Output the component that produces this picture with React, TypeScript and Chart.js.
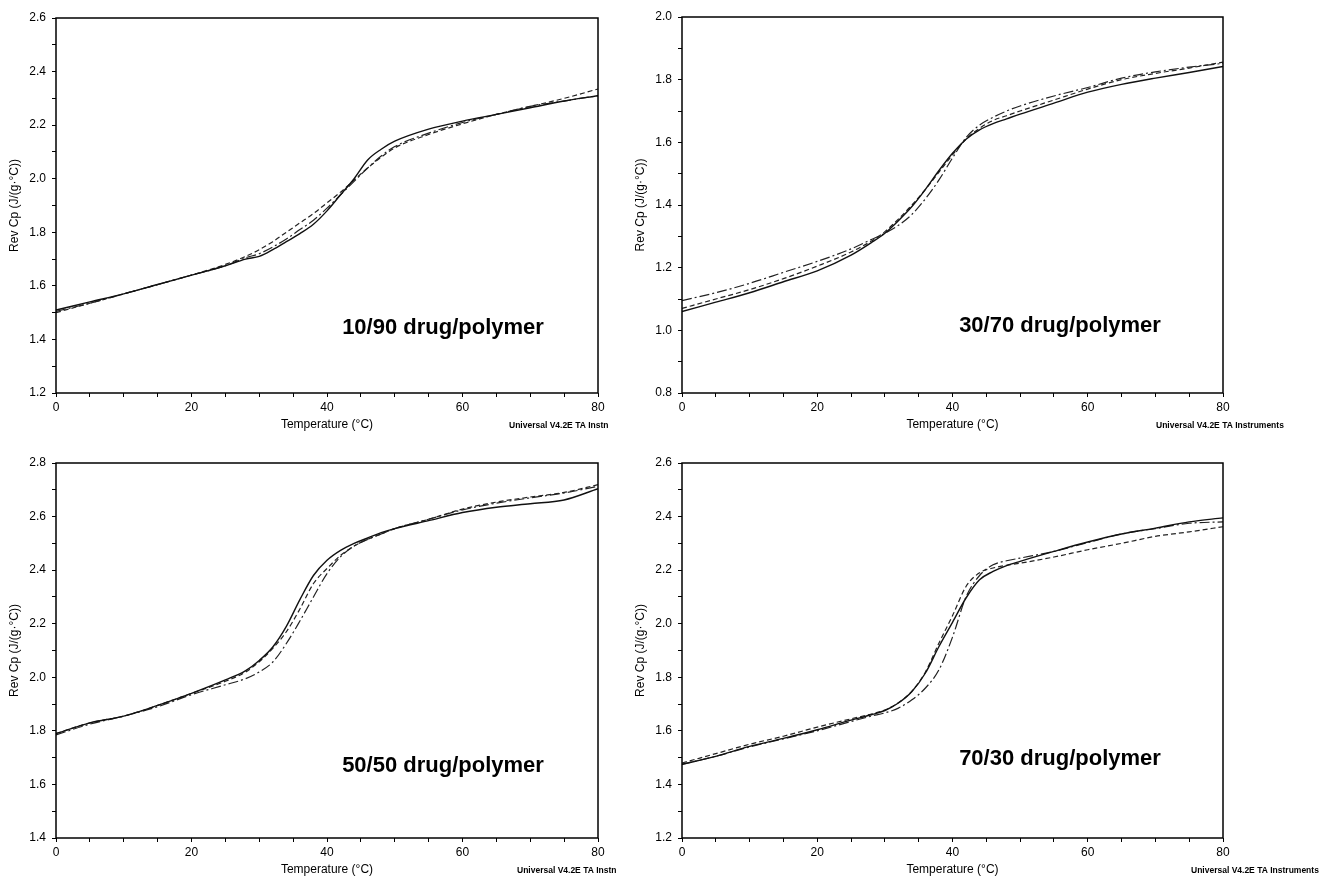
import React, { useEffect, useRef } from "react";
import { Chart, registerables } from "chart.js";

Chart.register(...registerables);

// ---------- data ----------
const temps = [0, 5, 10, 15, 20, 25, 28, 30, 32, 34, 36, 38, 40, 42, 44, 46, 48, 50, 55, 60, 65, 70, 75, 80];

const p1Solid = [1.51, 1.54, 1.57, 1.605, 1.64, 1.675, 1.70, 1.71, 1.735, 1.765, 1.795, 1.83, 1.88, 1.94, 2.00, 2.07, 2.11, 2.14, 2.185, 2.215, 2.24, 2.265, 2.29, 2.31];
const p1Dashed = [1.50, 1.535, 1.57, 1.605, 1.64, 1.68, 1.71, 1.735, 1.765, 1.80, 1.835, 1.87, 1.91, 1.95, 1.995, 2.04, 2.08, 2.115, 2.165, 2.205, 2.24, 2.27, 2.30, 2.335];
const p1DashDot = [1.505, 1.535, 1.57, 1.605, 1.64, 1.675, 1.705, 1.72, 1.745, 1.775, 1.81, 1.845, 1.89, 1.94, 1.99, 2.04, 2.085, 2.12, 2.17, 2.21, 2.24, 2.27, 2.29, 2.31];

const p2Solid = [1.06, 1.09, 1.12, 1.155, 1.19, 1.24, 1.28, 1.31, 1.35, 1.395, 1.45, 1.51, 1.565, 1.61, 1.64, 1.66, 1.675, 1.69, 1.725, 1.76, 1.785, 1.805, 1.823, 1.842];
const p2Dashed = [1.07, 1.10, 1.13, 1.165, 1.205, 1.25, 1.285, 1.315, 1.355, 1.40, 1.45, 1.505, 1.56, 1.61, 1.645, 1.67, 1.685, 1.70, 1.735, 1.77, 1.80, 1.82, 1.837, 1.856];
const p2DashDot = [1.095, 1.12, 1.15, 1.185, 1.22, 1.26, 1.29, 1.31, 1.335, 1.37, 1.42, 1.48, 1.55, 1.615, 1.655, 1.68, 1.70, 1.716, 1.748, 1.775, 1.805, 1.825, 1.84, 1.852];

const p3Solid = [1.79, 1.83, 1.855, 1.895, 1.94, 1.99, 2.025, 2.063, 2.113, 2.19, 2.29, 2.38, 2.437, 2.474, 2.50, 2.52, 2.54, 2.555, 2.585, 2.615, 2.635, 2.648, 2.662, 2.704];
const p3Dashed = [1.79, 1.83, 1.855, 1.895, 1.94, 1.985, 2.02, 2.058, 2.108, 2.17, 2.255, 2.35, 2.406, 2.455, 2.49, 2.515, 2.535, 2.555, 2.59, 2.628, 2.654, 2.673, 2.69, 2.719];
const p3DashDot = [1.785, 1.825, 1.855, 1.89, 1.935, 1.972, 1.995, 2.02, 2.057, 2.126, 2.21, 2.30, 2.387, 2.45, 2.49, 2.515, 2.535, 2.555, 2.59, 2.625, 2.65, 2.67, 2.688, 2.713];

const p4Solid = [1.475, 1.505, 1.542, 1.572, 1.604, 1.64, 1.66, 1.676, 1.704, 1.747, 1.816, 1.915, 2.005, 2.096, 2.164, 2.195, 2.217, 2.233, 2.27, 2.305, 2.335, 2.357, 2.38, 2.395];
const p4Dashed = [1.48, 1.515, 1.55, 1.58, 1.614, 1.645, 1.663, 1.678, 1.705, 1.748, 1.82, 1.928, 2.03, 2.139, 2.19, 2.208, 2.218, 2.226, 2.249, 2.276, 2.30, 2.326, 2.343, 2.362];
const p4DashDot = [1.475, 1.505, 1.54, 1.57, 1.60, 1.635, 1.655, 1.667, 1.685, 1.716, 1.76, 1.828, 1.95, 2.10, 2.18, 2.22, 2.235, 2.245, 2.27, 2.303, 2.335, 2.355, 2.375, 2.38];

const xTickLabels = ["0", "20", "40", "60", "80"];
const p1YTicks = ["1.2", "1.4", "1.6", "1.8", "2.0", "2.2", "2.4", "2.6"];
const p2YTicks = ["0.8", "1.0", "1.2", "1.4", "1.6", "1.8", "2.0"];
const p3YTicks = ["1.4", "1.6", "1.8", "2.0", "2.2", "2.4", "2.6", "2.8"];
const p4YTicks = ["1.2", "1.4", "1.6", "1.8", "2.0", "2.2", "2.4", "2.6"];

const panelTitles = ["10/90 drug/polymer", "30/70 drug/polymer", "50/50 drug/polymer", "70/30 drug/polymer"];
const footerTexts = ["Universal V4.2E TA Instn", "Universal V4.2E TA Instruments", "Universal V4.2E TA Instn", "Universal V4.2E TA Instruments"];
const xTitle = "Temperature (°C)";
const yTitle = "Rev Cp (J/(g·°C))";

const panels = [
  { series: [p1Solid, p1Dashed, p1DashDot], yTicks: p1YTicks },
  { series: [p2Solid, p2Dashed, p2DashDot], yTicks: p2YTicks },
  { series: [p3Solid, p3Dashed, p3DashDot], yTicks: p3YTicks },
  { series: [p4Solid, p4Dashed, p4DashDot], yTicks: p4YTicks },
];

// ---------- layout ----------
const GEOM = [
  { left: 0, top: 0, w: 620, h: 440, area: { l: 56, t: 18, r: 598, b: 393 }, labelX: 443, labelY: 334, uniX: 509, uniY: 428 },
  { left: 620, top: 0, w: 705, h: 440, area: { l: 682, t: 17, r: 1223, b: 393 }, labelX: 1060, labelY: 332, uniX: 1156, uniY: 428 },
  { left: 0, top: 440, w: 620, h: 440, area: { l: 56, t: 463, r: 598, b: 838 }, labelX: 443, labelY: 772, uniX: 517, uniY: 873 },
  { left: 620, top: 440, w: 705, h: 440, area: { l: 682, t: 463, r: 1223, b: 838 }, labelX: 1060, labelY: 765, uniX: 1191, uniY: 873 },
];

const STYLES = [
  { dash: [], color: "#111", width: 1.4 },
  { dash: [5, 3], color: "#222", width: 1.2 },
  { dash: [10, 3, 2, 3], color: "#222", width: 1.2 },
];

const FONT = '"Liberation Sans", Arial, sans-serif';
const X_AXIS_H = 42;

function Panel({ index }: { index: number }) {
  const ref = useRef<HTMLCanvasElement | null>(null);
  const g = GEOM[index];
  useEffect(() => {
    if (!ref.current) return;
    const p = panels[index];
    const yLabels = p.yTicks;
    const yMin = parseFloat(yLabels[0]);
    const yMax = parseFloat(yLabels[yLabels.length - 1]);
    const yAxisW = g.area.l - g.left;
    const padTop = g.area.t - g.top;
    const padRight = g.left + g.w - g.area.r;
    const padBottom = g.top + g.h - g.area.b - X_AXIS_H;

    const deco = {
      id: "deco" + index,
      afterDraw(chart: any) {
        const { ctx, chartArea: a } = chart;
        ctx.save();
        ctx.strokeStyle = "#000";
        ctx.lineWidth = 1.5;
        ctx.strokeRect(a.left, a.top, a.right - a.left, a.bottom - a.top);
        ctx.fillStyle = "#000";
        ctx.font = `bold 22px ${FONT}`;
        ctx.textAlign = "center";
        ctx.textBaseline = "alphabetic";
        ctx.fillText(panelTitles[index], g.labelX - g.left, g.labelY - g.top);
        ctx.font = `bold 8.5px ${FONT}`;
        ctx.textAlign = "left";
        ctx.fillText(footerTexts[index], g.uniX - g.left, g.uniY - g.top);
        ctx.restore();
      },
    };

    const chart = new Chart(ref.current, {
      type: "line",
      data: {
        datasets: p.series.map((vals, k) => ({
          label: "run " + (k + 1),
          data: temps.map((t, j) => ({ x: t, y: vals[j] })),
          borderColor: STYLES[k].color,
          borderWidth: STYLES[k].width,
          borderDash: STYLES[k].dash,
          pointRadius: 0,
          fill: false,
          cubicInterpolationMode: "monotone",
        })),
      },
      options: {
        animation: false,
        responsive: false,
        devicePixelRatio: 1,
        layout: { padding: { left: 0, top: padTop, right: padRight, bottom: padBottom } },
        plugins: { legend: { display: false }, tooltip: { enabled: false } },
        scales: {
          x: {
            type: "linear",
            min: 0,
            max: 80,
            border: { display: false },
            grid: { display: true, drawOnChartArea: false, drawTicks: true, tickLength: 4, color: "#000", lineWidth: 1 },
            ticks: {
              stepSize: 5,
              maxTicksLimit: 100,
              autoSkip: false,
              maxRotation: 0,
              padding: 3,
              color: "#000",
              font: { family: FONT, size: 12 },
              callback: (v: any) => (xTickLabels.includes(String(v)) ? String(v) : ""),
            },
            title: { display: true, text: xTitle, color: "#000", font: { family: FONT, size: 12 }, padding: { top: 0, bottom: 2.8 } },
            afterFit: (s: any) => {
              s.height = X_AXIS_H;
            },
          },
          y: {
            type: "linear",
            min: yMin,
            max: yMax,
            border: { display: false },
            grid: { display: true, drawOnChartArea: false, drawTicks: true, tickLength: 4, color: "#000", lineWidth: 1 },
            ticks: {
              stepSize: 0.1,
              maxTicksLimit: 100,
              autoSkip: false,
              padding: 6,
              color: "#000",
              font: { family: FONT, size: 12 },
              callback: (v: any) => {
                const s = Number(v).toFixed(1);
                return yLabels.includes(s) ? s : "";
              },
            },
            title: { display: true, text: yTitle, color: "#000", font: { family: FONT, size: 12 }, padding: { top: yAxisW - 41 - 7.2, bottom: 0 } },
            afterFit: (s: any) => {
              s.width = yAxisW;
            },
          },
        },
      },
      plugins: [deco],
    } as any);
    return () => chart.destroy();
  }, [index]);
  return (
    <canvas
      ref={ref}
      width={g.w}
      height={g.h}
      style={{ position: "absolute", left: g.left, top: g.top, width: g.w, height: g.h }}
    />
  );
}

export default function App() {
  return (
    <div style={{ position: "absolute", left: 0, top: 0, width: 1325, height: 880, background: "#fff", overflow: "hidden" }}>
      {[0, 1, 2, 3].map((i) => (
        <Panel key={i} index={i} />
      ))}
    </div>
  );
}
